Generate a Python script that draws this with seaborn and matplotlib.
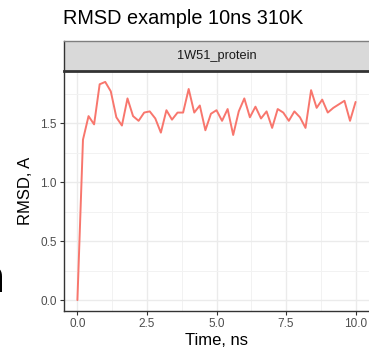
import matplotlib
matplotlib.use("Agg")
import matplotlib.pyplot as plt
import seaborn as sns
import pandas as pd
import numpy as np

time_ns = [0.0, 0.2, 0.4, 0.6, 0.8, 1.0, 1.2, 1.4, 1.6, 1.8,
           2.0, 2.2, 2.4, 2.6, 2.8, 3.0, 3.2, 3.4, 3.6, 3.8,
           4.0, 4.2, 4.4, 4.6, 4.8, 5.0, 5.2, 5.4, 5.6, 5.8,
           6.0, 6.2, 6.4, 6.6, 6.8, 7.0, 7.2, 7.4, 7.6, 7.8,
           8.0, 8.2, 8.4, 8.6, 8.8, 9.0, 9.2, 9.4, 9.6, 9.8, 10.0]
rmsd = [0.00, 1.36, 1.56, 1.49, 1.83, 1.85, 1.77, 1.55, 1.48, 1.71,
        1.56, 1.52, 1.59, 1.60, 1.54, 1.42, 1.61, 1.53, 1.59, 1.59,
        1.79, 1.59, 1.65, 1.44, 1.58, 1.61, 1.52, 1.62, 1.40, 1.60,
        1.71, 1.55, 1.64, 1.54, 1.60, 1.46, 1.62, 1.59, 1.52, 1.60,
        1.55, 1.46, 1.78, 1.63, 1.70, 1.59, 1.63, 1.66, 1.69, 1.52, 1.68]
protein = "1W51_protein"
x_ticks = [0.0, 2.5, 5.0, 7.5, 10.0]
y_ticks = [0.0, 0.5, 1.0, 1.5]

df = pd.DataFrame({"Time": time_ns, "RMSD": rmsd, "protein": protein})

sns.set_theme(style="white")
plt.rcParams["font.family"] = ["Liberation Sans", "DejaVu Sans"]

W, H = 369, 353
fig = plt.figure(figsize=(W / 100, H / 100), dpi=100)

def fx(px):
    return px / W

def fy(py):
    return 1 - py / H

left, right, top, bottom = 63.5, 369.5, 71, 311
ax = fig.add_axes([fx(left), fy(bottom), fx(right - left), fy(top) - fy(bottom)])
ax.set_facecolor("white")

sns.lineplot(data=df, x="Time", y="RMSD", ax=ax, color="#F8766D", linewidth=1.4)

ax.set_xlim(-0.5, 10.5)
ax.set_ylim(-0.0925, 1.9425)
ax.set_xticks(x_ticks)
ax.set_xticklabels([f"{v:.1f}" for v in x_ticks])
ax.set_yticks(y_ticks)
ax.set_yticklabels([f"{v:.1f}" for v in y_ticks])
ax.set_xticks([1.25, 3.75, 6.25, 8.75], minor=True)
ax.set_yticks([0.25, 0.75, 1.25, 1.75], minor=True)
ax.grid(True, which="major", color="#EBEBEB", linewidth=1.0)
ax.grid(True, which="minor", color="#F2F2F2", linewidth=0.7)
ax.set_axisbelow(True)
ax.tick_params(axis="both", which="major", length=3, width=0.8, color="#333333",
               labelsize=8.5, labelcolor="#4D4D4D", pad=2, bottom=True, left=True)
ax.tick_params(axis="both", which="minor", length=0)
for s in ["left", "bottom"]:
    ax.spines[s].set_color("#333333")
    ax.spines[s].set_linewidth(1.0)
for s in ["top", "right"]:
    ax.spines[s].set_visible(False)
ax.set_xlabel("Time, ns", fontsize=12, color="black", labelpad=2)
ax.set_ylabel("RMSD, A", fontsize=12, color="black", labelpad=5)

# facet strip
sax = fig.add_axes([fx(left), fy(top), fx(right - left), fy(41) - fy(top)])
sax.set_facecolor("#D9D9D9")
sax.set_xticks([])
sax.set_yticks([])
for s in ["left", "right"]:
    sax.spines[s].set_color("#333333")
    sax.spines[s].set_linewidth(1.0)
sax.spines["top"].set_color("#7F7F7F")
sax.spines["top"].set_linewidth(1.0)
sax.spines["bottom"].set_color("#333333")
sax.spines["bottom"].set_linewidth(2.0)
sax.text(0.5, 0.5, protein, ha="center", va="center", fontsize=9.2,
         color="#1A1A1A", transform=sax.transAxes)

fig.text(fx(63), fy(18), "RMSD example 10ns 310K", ha="left", va="center",
         fontsize=14.3, color="black")

# clipped glyph at left edge
fig.text(fx(5), fy(292), "n", ha="right", va="baseline", fontsize=34,
         fontweight="bold", color="black")

fig.savefig("out.png", dpi=100)
